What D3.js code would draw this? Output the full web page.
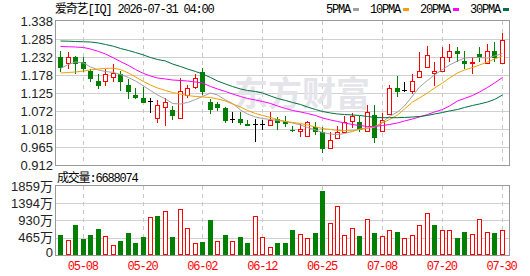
<!DOCTYPE html>
<html>
<head>
<meta charset="utf-8">
<script src="https://cdn.jsdelivr.net/npm/d3@7"></script>
<style>
  body { margin: 0; background: #fff; }
  svg { display: block; }
</style>
</head>
<body>
<svg id="chart" width="530" height="276"></svg>
<script>
const title = "爱奇艺[IQ] 2026-07-31 04:00";

const dates = [
  "05-05","05-06","05-07","05-08","05-11","05-12","05-13","05-14","05-15","05-18",
  "05-19","05-20","05-21","05-22","05-26","05-27","05-28","05-29","06-01","06-02",
  "06-03","06-04","06-05","06-08","06-09","06-10","06-11","06-12","06-15","06-16",
  "06-17","06-18","06-22","06-23","06-24","06-25","06-26","06-29","06-30","07-01",
  "07-02","07-06","07-07","07-08","07-09","07-10","07-13","07-14","07-15","07-16",
  "07-17","07-20","07-21","07-22","07-23","07-24","07-27","07-28","07-29","07-30"
];

const open = [
  1.2325,1.2128,1.2305,1.2177,1.1891,1.1595,1.1615,1.1714,1.1812,1.1487,
  1.1191,1.1092,1.1010,1.0501,1.0826,1.0747,1.0501,1.1201,1.1418,1.1860,
  1.0994,1.0920,1.0816,1.0480,1.0481,1.0333,1.0333,1.0345,1.0314,1.0481,
  1.0412,1.0166,1.0116,0.9988,1.0235,1.0087,0.9613,0.9919,1.0087,1.0412,
  1.0382,1.0116,1.0599,1.0116,1.0629,1.1398,1.1340,1.1319,1.1714,1.2009,
  1.1832,1.1911,1.2325,1.2483,1.2187,1.2128,1.2404,1.2128,1.2483,1.2128
];
const high = [
  1.2483,1.2453,1.2355,1.2305,1.1960,1.1812,1.1960,1.2108,1.1891,1.1664,
  1.1398,1.1438,1.1102,1.1043,1.1092,1.0875,1.1694,1.1497,1.1812,1.2000,
  1.1070,1.0994,1.0840,1.0700,1.0678,1.0461,1.0481,1.0451,1.0678,1.0530,
  1.0580,1.0284,1.0333,1.0432,1.0382,1.0235,1.0087,1.0284,1.0580,1.0659,
  1.0580,1.0905,1.0905,1.0649,1.1497,1.1743,1.1585,1.1812,1.2453,1.2631,
  1.2157,1.2621,1.2700,1.2621,1.2483,1.2305,1.2621,1.2700,1.2749,1.3015
];
const low = [
  1.1911,1.1990,1.1832,1.1911,1.1615,1.1398,1.1497,1.1615,1.1339,1.1102,
  1.1102,1.0994,1.0698,1.0402,1.0314,1.0481,1.0501,1.1142,1.1398,1.1221,
  1.0660,1.0747,1.0402,1.0405,1.0320,1.0314,0.9840,1.0185,1.0314,1.0185,
  1.0264,1.0116,0.9988,0.9988,1.0037,0.9495,0.9613,0.9919,1.0087,1.0235,
  1.0116,1.0116,0.9811,1.0116,1.0629,1.1171,1.1320,1.1240,1.1714,1.2009,
  1.1497,1.1911,1.2207,1.2207,1.1990,1.1832,1.2207,1.2128,1.2207,1.2128
];
const close = [
  1.2009,1.2305,1.2128,1.1990,1.1694,1.1487,1.1812,1.1830,1.1615,1.1319,
  1.1122,1.0994,1.1010,1.0895,1.0974,1.0609,1.1299,1.1398,1.1684,1.1319,
  1.0790,1.0846,1.0460,1.0480,1.0402,1.0314,1.0333,1.0345,1.0461,1.0402,
  1.0373,1.0146,1.0185,1.0382,1.0116,0.9613,0.9860,1.0087,1.0382,1.0580,
  1.0185,1.0678,0.9958,1.0451,1.1398,1.1319,1.1340,1.1595,1.1891,1.2384,
  1.1891,1.2305,1.2483,1.2424,1.2128,1.2177,1.2325,1.2483,1.2325,1.2818
];

// 成交量, 万股
const volume = [
  539,395,808,431,539,700,503,260,377,593,
  323,485,1015,1051,1176,485,1230,718,314,350,
  943,368,539,368,485,323,1051,476,207,323,
  323,674,557,449,593,1724,853,1311,530,718,
  512,961,593,503,665,620,449,530,799,1123,
  808,665,665,458,620,557,961,611,593,668.8074
];

const ma5 = [
  1.1975,1.2093,1.2167,1.2138,1.2019,1.1931,1.1886,1.1857,1.1797,1.1709,
  1.1605,1.1457,1.1324,1.1191,1.1073,1.0940,1.0925,1.0969,1.1058,1.1147,
  1.1250,1.1191,1.1043,1.0940,1.0747,1.0629,1.0540,1.0496,1.0466,1.0437,
  1.0407,1.0363,1.0304,1.0230,1.0156,1.0082,1.0037,1.0017,1.0052,1.0111,
  1.0185,1.0215,1.0230,1.0392,1.0555,1.0688,1.0866,1.1161,1.1428,1.1620,
  1.1783,1.1945,1.2078,1.2197,1.2286,1.2300,1.2300,1.2286,1.2345,1.2419
];
const ma10 = [
  1.1842,1.1857,1.1871,1.1901,1.1931,1.1960,1.1981,1.1981,1.1945,1.1842,
  1.1724,1.1590,1.1487,1.1398,1.1324,1.1265,1.1221,1.1176,1.1147,1.1132,
  1.1117,1.1073,1.1014,1.0925,1.0836,1.0733,1.0644,1.0585,1.0526,1.0466,
  1.0407,1.0378,1.0348,1.0304,1.0245,1.0200,1.0171,1.0141,1.0135,1.0135,
  1.0171,1.0215,1.0259,1.0363,1.0466,1.0599,1.0777,1.0984,1.1102,1.1250,
  1.1398,1.1546,1.1694,1.1842,1.1931,1.2005,1.2078,1.2167,1.2256,1.2345
];
const ma20 = [
  1.2626,1.2617,1.2611,1.2596,1.2552,1.2478,1.2404,1.2286,1.2182,1.2064,
  1.1945,1.1827,1.1753,1.1694,1.1664,1.1635,1.1620,1.1605,1.1576,1.1546,
  1.1443,1.1369,1.1295,1.1221,1.1147,1.1088,1.1043,1.0999,1.0940,1.0866,
  1.0792,1.0733,1.0688,1.0644,1.0585,1.0511,1.0452,1.0407,1.0363,1.0318,
  1.0289,1.0259,1.0259,1.0289,1.0318,1.0363,1.0422,1.0481,1.0540,1.0614,
  1.0688,1.0762,1.0866,1.1014,1.1088,1.1176,1.1280,1.1413,1.1546,1.1709
];
const ma30 = [
  1.2788,1.2782,1.2774,1.2765,1.2759,1.2729,1.2685,1.2632,1.2567,1.2507,
  1.2448,1.2374,1.2300,1.2241,1.2197,1.2108,1.2034,1.1960,1.1886,1.1812,
  1.1709,1.1605,1.1516,1.1442,1.1369,1.1324,1.1295,1.1250,1.1162,1.1088,
  1.1029,1.0969,1.0910,1.0836,1.0762,1.0703,1.0659,1.0629,1.0614,1.0600,
  1.0585,1.0555,1.0526,1.0520,1.0520,1.0520,1.0526,1.0540,1.0555,1.0585,
  1.0629,1.0673,1.0718,1.0762,1.0821,1.0881,1.0925,1.0984,1.1058,1.1191
];

const maNames = ["5PMA", "10PMA", "20PMA", "30PMA"];
const priceTicks = [0.912, 0.965, 1.018, 1.072, 1.125, 1.178, 1.232, 1.285, 1.338];
const volTicks = [0, 465, 930, 1394, 1859];
const tickDates = ["05-08", "05-20", "06-02", "06-12", "06-25", "07-08", "07-20", "07-30"];

const RED = "#ff0000", GREEN = "#008000", GRID = "#d0d0d0", BORDER = "#999";
const maColors = ["#a0a0a0", "#f0a000", "#ff00ff", "#00703c"];
const MONO = "'Liberation Mono', 'Noto Sans CJK SC', monospace";
const SANS = "'Liberation Sans', Arial, 'Noto Sans CJK SC', sans-serif";

const svg = d3.select("#chart");
const pLeft = 56, pRight = 509, pTop = 21, pBottom = 165, vTop = 186, vBottom = 255;

const x = d3.scaleBand().domain(dates).range([56.5, 505.3]);
const cx = i => Math.round(x(dates[i]) + x.bandwidth() / 2);
const y = d3.scaleLinear().domain([priceTicks[0], priceTicks[8]]).range([pBottom, pTop]);
const yv = d3.scaleLinear().domain([0, volTicks[4]]).range([vBottom, vTop]);
const px = v => Math.round(v) + 0.5;

// grids
const grid = svg.append("g").attr("stroke-width", 1).attr("shape-rendering", "crispEdges");
grid.selectAll(".hp").data(priceTicks.slice(1, -1)).join("line")
  .attr("x1", pLeft).attr("x2", pRight)
  .attr("y1", d => px(y(d))).attr("y2", d => px(y(d)))
  .attr("stroke", GRID);
grid.selectAll(".hv").data(volTicks.slice(1, -1)).join("line")
  .attr("x1", pLeft).attr("x2", pRight)
  .attr("y1", d => px(yv(d))).attr("y2", d => px(yv(d)))
  .attr("stroke", GRID);
tickDates.forEach(d => {
  const gx = Math.round(x(d) + x.bandwidth() / 2) + 0.5;
  [[pTop, pBottom], [vTop, vBottom]].forEach(([a, b]) => {
    grid.append("line")
      .attr("x1", gx).attr("x2", gx).attr("y1", a).attr("y2", b)
      .attr("stroke", "#c8c8c8").attr("stroke-dasharray", "4,4");
  });
});

// watermark
svg.append("text")
  .attr("x", 234).attr("y", 106)
  .attr("font-family", "'Noto Sans CJK SC', sans-serif")
  .attr("font-size", 34).attr("font-weight", "bold")
  .attr("fill", "#e4e4ea")
  .text("东方财富");

// candles
const candles = svg.append("g").attr("shape-rendering", "crispEdges");
dates.forEach((d, i) => {
  const c = cx(i);
  const o = open[i], cl = close[i];
  const color = cl > o ? RED : cl < o ? GREEN : "#000";
  candles.append("line")
    .attr("x1", c + 0.5).attr("x2", c + 0.5)
    .attr("y1", Math.round(y(high[i]))).attr("y2", Math.round(y(low[i])) + 1)
    .attr("stroke", color);
  const t = Math.round(y(Math.max(o, cl))), b = Math.round(y(Math.min(o, cl)));
  if (cl > o) {
    candles.append("rect")
      .attr("x", c - 2 + 0.5).attr("y", t + 0.5)
      .attr("width", 4).attr("height", Math.max(1, b - t))
      .attr("fill", "#fff").attr("stroke", RED);
  } else if (cl < o) {
    candles.append("rect")
      .attr("x", c - 2).attr("y", t)
      .attr("width", 5).attr("height", Math.max(1, b - t + 1))
      .attr("fill", GREEN);
  } else {
    candles.append("line")
      .attr("x1", c - 2).attr("x2", c + 3)
      .attr("y1", t + 0.5).attr("y2", t + 0.5)
      .attr("stroke", "#000");
  }
});

// moving averages
[ma5, ma10, ma20, ma30].forEach((arr, k) => {
  svg.append("path")
    .datum(arr)
    .attr("fill", "none")
    .attr("stroke", maColors[k])
    .attr("stroke-width", 1)
    .attr("d", d3.line().x((v, i) => cx(i) + 0.5).y(v => y(v)));
});

// volume bars
const vol = svg.append("g").attr("shape-rendering", "crispEdges");
volume.forEach((v, i) => {
  const c = cx(i);
  const up = i === 0 ? close[i] > open[i] : close[i] > close[i - 1];
  const t = Math.round(yv(v));
  if (up) {
    vol.append("rect")
      .attr("x", c - 2 + 0.5).attr("y", t + 0.5)
      .attr("width", 4).attr("height", vBottom - t - 1)
      .attr("fill", "#fff").attr("stroke", RED);
  } else {
    vol.append("rect")
      .attr("x", c - 2).attr("y", t)
      .attr("width", 5).attr("height", vBottom - t)
      .attr("fill", GREEN);
  }
});

// frames
svg.append("rect").attr("x", pLeft - 0.5).attr("y", pTop - 0.5)
  .attr("width", pRight - pLeft + 1).attr("height", pBottom - pTop + 1)
  .attr("fill", "none").attr("stroke", BORDER).attr("shape-rendering", "crispEdges");
svg.append("rect").attr("x", pLeft - 0.5).attr("y", vTop - 0.5)
  .attr("width", pRight - pLeft + 1).attr("height", vBottom - vTop + 1)
  .attr("fill", "none").attr("stroke", BORDER).attr("shape-rendering", "crispEdges");

// axes
function styleAxis(g, size, family, fill) {
  g.select(".domain").remove();
  g.attr("font-size", size).attr("font-family", family);
  g.selectAll("text").attr("fill", fill);
}

svg.append("g").attr("transform", `translate(${pLeft - 1},0)`)
  .call(d3.axisLeft(y).tickValues(priceTicks).tickFormat(d3.format(".3f")).tickSize(0).tickPadding(2))
  .call(g => styleAxis(g, 13, SANS, "#222"));

svg.append("g").attr("transform", `translate(${pLeft - 1},0)`)
  .call(d3.axisLeft(yv).tickValues(volTicks).tickFormat(d => d ? d + "万" : "0").tickSize(0).tickPadding(2))
  .call(g => styleAxis(g, 13, SANS, "#222"))
  .call(g => g.selectAll(".tick").filter(d => d === 0).select("text").attr("dy", "0.1em"));

svg.append("g").attr("transform", `translate(0,${vBottom})`)
  .call(d3.axisBottom(x).tickValues(tickDates).tickSize(0).tickPadding(6.5))
  .call(g => styleAxis(g, 12, MONO, RED))
  .selectAll("text").attr("letter-spacing", -1.2);

// title, legend, volume label
svg.append("text").attr("x", 55).attr("y", 13)
  .attr("font-family", MONO).attr("font-size", 12).attr("letter-spacing", -1.2)
  .attr("fill", "#000").text(title);

svg.append("text").attr("x", 57).attr("y", 181.5)
  .attr("font-family", MONO).attr("font-size", 12).attr("letter-spacing", -1.2)
  .attr("fill", "#000").text("成交量:" + Math.round(volume[volume.length - 1] * 10000));

let lx = 326;
maNames.forEach((name, k) => {
  const t = svg.append("text").attr("x", lx).attr("y", 13)
    .attr("font-family", MONO).attr("font-size", 12).attr("letter-spacing", -1.2)
    .attr("fill", "#000").text(name);
  const w = t.node().getComputedTextLength();
  svg.append("rect").attr("x", Math.round(lx + w + 3)).attr("y", 8)
    .attr("width", 6).attr("height", 3).attr("fill", maColors[k]);
  lx = Math.round(lx + w + 3) + 6 + 11;
});
</script>
</body>
</html>
